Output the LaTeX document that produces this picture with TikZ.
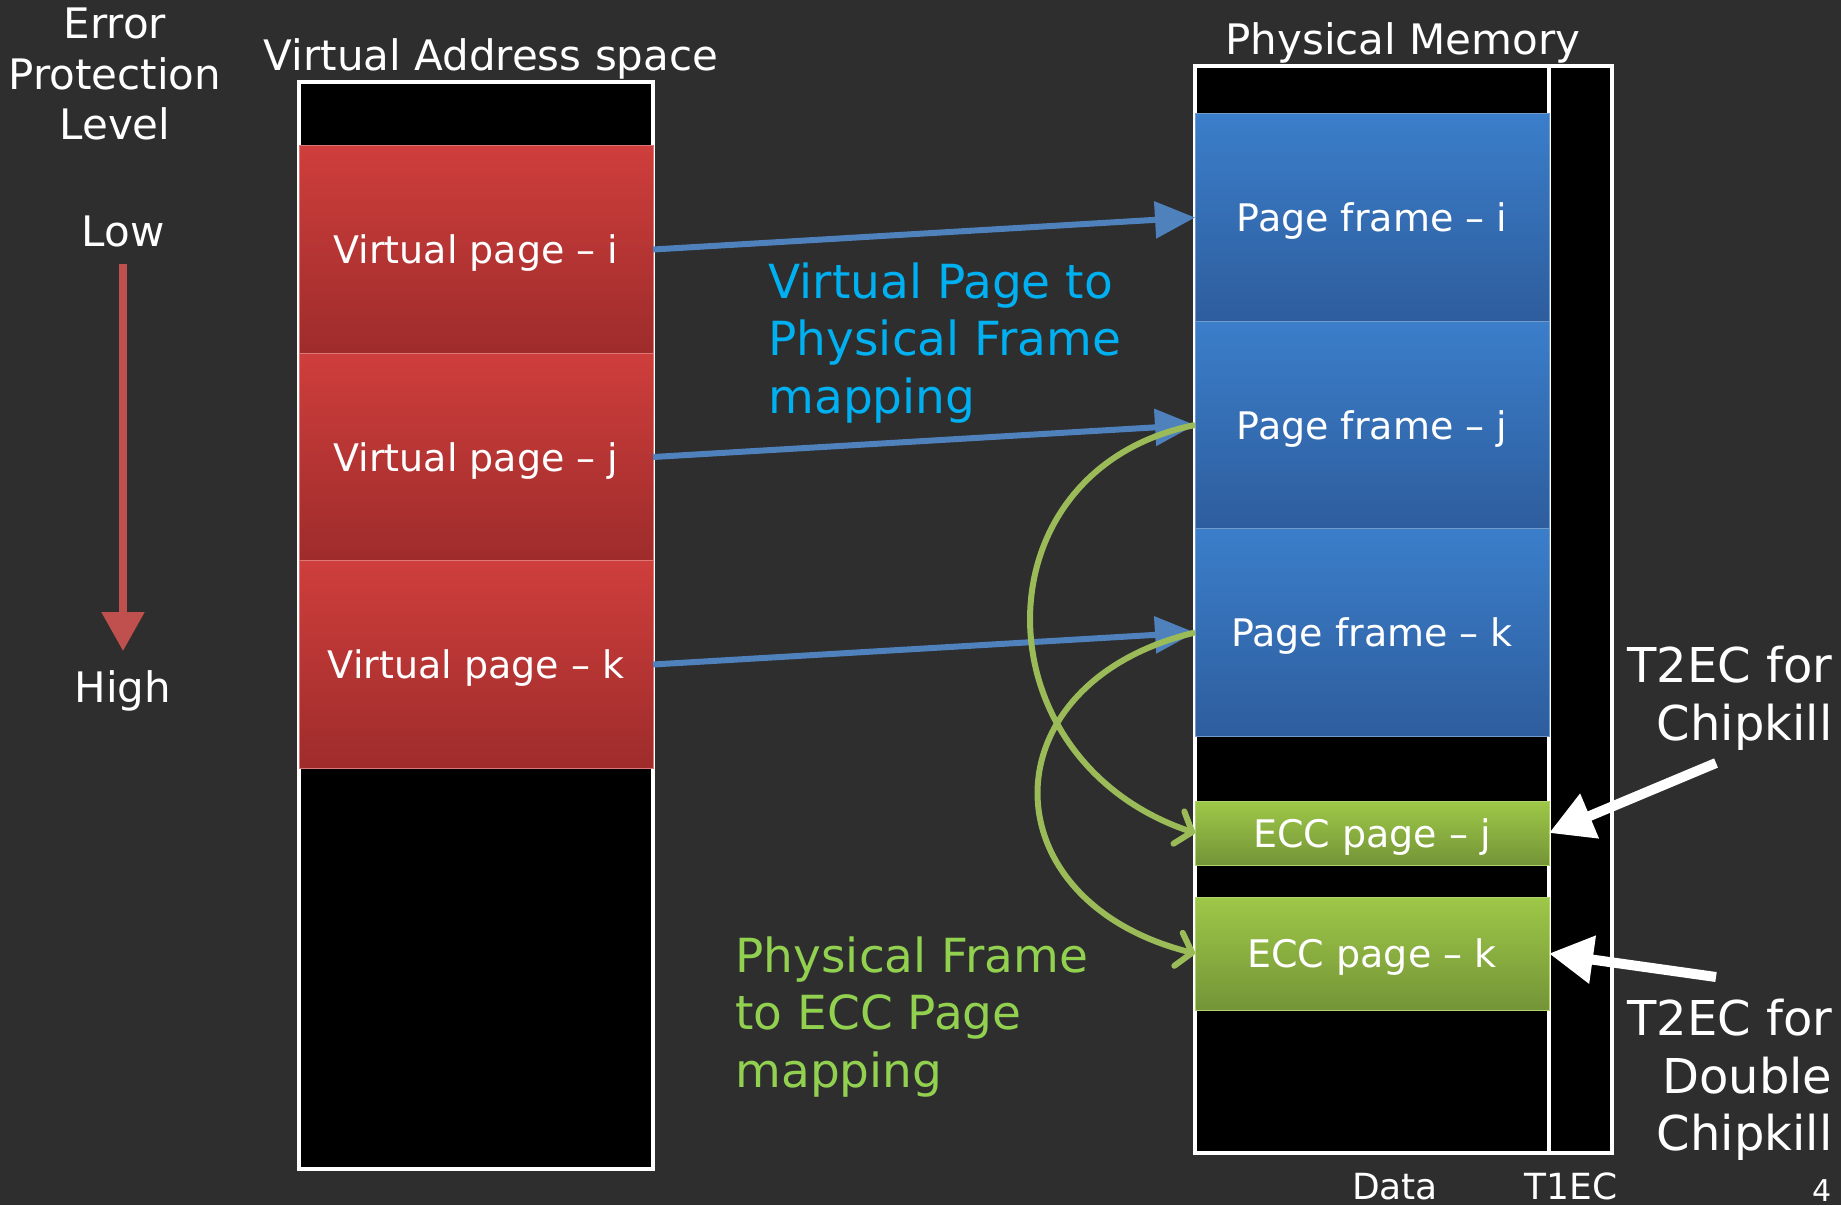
\documentclass[tikz,border=0pt]{standalone}
\usepackage{fontspec}
\setmainfont{DejaVu Sans}
\usepackage{tikz}
\usetikzlibrary{positioning,arrows.meta,calc}

\definecolor{slidebg}{RGB}{46,46,46}
\definecolor{vpred}{RGB}{206,62,60}
\definecolor{vpreddark}{RGB}{158,44,43}
\definecolor{pfblue}{RGB}{59,126,202}
\definecolor{pfbluedark}{RGB}{46,93,157}
\definecolor{eccgreen}{RGB}{158,200,72}
\definecolor{eccgreendark}{RGB}{116,148,55}
\definecolor{mapblue}{RGB}{79,129,189}
\definecolor{mapgreen}{RGB}{155,187,89}
\definecolor{labelblue}{RGB}{0,176,240}
\definecolor{labelgreen}{RGB}{146,208,80}
\definecolor{levelred}{RGB}{192,80,77}

\begin{document}
\begin{tikzpicture}[x=1pt,y=-1pt,
    every node/.style={text=white},
    membox/.style={draw=white,line width=4pt,fill=black},
    vpage/.style={rectangle,minimum width=354pt,minimum height=207.5pt,inner sep=0pt,outer sep=0pt,
        text depth=0pt,top color=vpred,bottom color=vpreddark,draw=vpred!70!white,line width=1pt,
        font=\fontsize{38}{46}\selectfont},
    pframe/.style={vpage,top color=pfblue,bottom color=pfbluedark,draw=mapblue!80!white},
    eccpage/.style={vpage,top color=eccgreen,bottom color=eccgreendark,draw=eccgreen!80!white},
    vpmap/.style={draw=mapblue,line width=6pt,-{Triangle[length=40pt,width=36pt]}},
    eccmap/.style={draw=mapgreen,line width=6pt,-{Straight Barb[length=14pt,width=34pt,round]}},
    t2ec/.style={draw=white,line width=10pt,-{Triangle[length=44pt,width=46pt]}},
    bigtext/.style={font=\fontsize{42}{50.5}\selectfont}]

    \useasboundingbox (0,0) rectangle (1841,1205);
    \fill[slidebg] (0,0) rectangle (1841,1205);

    \draw[membox] (299,82) rectangle (653,1169);
    \draw[membox] (1195,66) rectangle (1612,1153);
    \draw[white,line width=4pt] (1549,66) -- (1549,1153);

    \node[bigtext,anchor=base] (vas) at (491,70) {Virtual Address space};
    \node[bigtext,anchor=base] (pm) at (1403,54) {Physical Memory};
    \node[bigtext,align=center] (epl) at (115,74) {Error\\Protection\\Level};

    \node[bigtext] (low) at (123,231) {Low};
    \node[bigtext] (high) at (123,691) {High};
    \draw[levelred,line width=8pt,-{Triangle[length=39pt,width=41pt]},shorten <=14pt,shorten >=16pt]
        (low.south) -- (high.north);

    \foreach \p/\y in {i/249.5,j/457,k/664.5} {
        \node[vpage] (vp\p) at (476,\y) {Virtual page – \p};
        \node[pframe] (pf\p) at (1372,\y-32) {Page frame – \p};
        \draw[vpmap] (vp\p.east) -- (pf\p.west);
    }

    \node[eccpage,minimum height=64pt] (eccj) at (1372,833) {ECC page – j};
    \node[eccpage,minimum height=113pt] (ecck) at (1372,953.5) {ECC page – k};

    \draw[eccmap] (pfj.west) .. controls +(-219,44) and +(-219,-74) .. (eccj.west);
    \draw[eccmap] (pfk.west) .. controls +(-209,50) and +(-209,-53) .. (ecck.west);

    \node[font=\fontsize{47}{57.5}\selectfont,text=labelblue,align=left,anchor=west] (vpmaptext)
        at (765,343) {Virtual Page to\\Physical Frame\\mapping};
    \node[font=\fontsize{47}{57.5}\selectfont,text=labelgreen,align=left,anchor=west] (eccmaptext)
        at (732,1017) {Physical Frame\\to ECC Page\\mapping};

    \node[font=\fontsize{48}{57.5}\selectfont,align=right,anchor=east] (ck) at (1836,698) {T2EC for\\Chipkill};
    \node[font=\fontsize{48}{57.5}\selectfont,align=right,anchor=east] (dck) at (1836,1080) {T2EC for\\Double\\Chipkill};
    \coordinate (cktail) at (1716,763);
    \coordinate (dcktail) at (1716,977);
    \draw[t2ec] (cktail) -- (eccj.east);
    \draw[t2ec] (dcktail) -- (ecck.east);

    \node[font=\fontsize{36}{43}\selectfont,anchor=base] (data) at (1395,1199) {Data};
    \node[font=\fontsize{36}{43}\selectfont,anchor=base] (t1ec) at (1571,1199) {T1EC};
    \node[font=\fontsize{30}{36}\selectfont,anchor=base] (slideno) at (1822,1201) {4};
\end{tikzpicture}
\end{document}
